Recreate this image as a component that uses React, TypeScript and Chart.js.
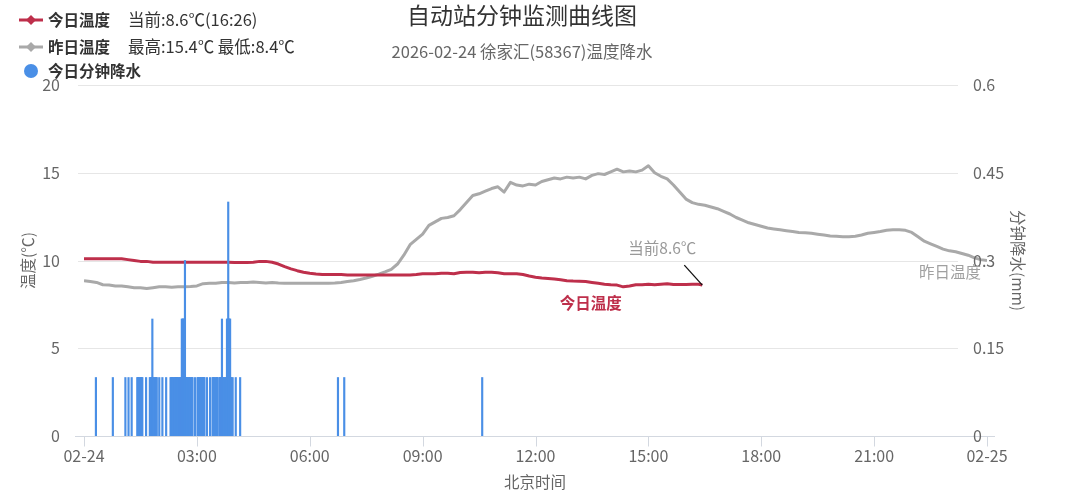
import React, { useEffect, useRef } from "react";
import { Chart, registerables } from "chart.js";

Chart.register(...registerables);

const TITLE = "自动站分钟监测曲线图";
const SUBTITLE = "2026-02-24 徐家汇(58367)温度降水";
const X_TITLE = "北京时间";
const TEMP_TITLE = "温度(℃)";
const RAIN_TITLE = "分钟降水(mm)";

const TODAY_NAME = "今日温度";
const TODAY_NOTE = "当前:8.6℃(16:26)";
const YESTERDAY_NAME = "昨日温度";
const YESTERDAY_NOTE = "最高:15.4℃ 最低:8.4℃";
const RAIN_NAME = "今日分钟降水";
const CURRENT_LABEL = "当前8.6℃";

// x axis: minutes since 00:00
const X_TICK_MINUTES = [0, 180, 360, 540, 720, 900, 1080, 1260, 1440];
const X_TICK_LABELS = ["02-24", "03:00", "06:00", "09:00", "12:00", "15:00", "18:00", "21:00", "02-25"];
const TEMP_TICKS = [0, 5, 10, 15, 20];
const TEMP_TICK_LABELS = ["0", "5", "10", "15", "20"];
const RAIN_TICKS = [0, 0.15, 0.3, 0.45, 0.6];
const RAIN_TICK_LABELS = ["0", "0.15", "0.3", "0.45", "0.6"];

// temperatures are sampled every 10 minutes
const SAMPLE_STEP = 10;

const TODAY_TEMPS = [
  10.1, 10.1, 10.1, 10.1, 10.1, 10.1, 10.1, 10.05, 10.0, 9.95,
  9.95, 9.9, 9.9, 9.9, 9.9, 9.9, 9.9, 9.9, 9.9, 9.9,
  9.9, 9.9, 9.9, 9.9, 9.88, 9.88, 9.88, 9.9, 9.95, 9.95,
  9.9, 9.8, 9.65, 9.52, 9.42, 9.33, 9.27, 9.23, 9.2, 9.2,
  9.2, 9.2, 9.18, 9.18, 9.18, 9.18, 9.18, 9.18, 9.18, 9.18,
  9.18, 9.18, 9.18, 9.2, 9.25, 9.25, 9.25, 9.28, 9.28, 9.25,
  9.32, 9.33, 9.33, 9.3, 9.33, 9.33, 9.3, 9.25, 9.25, 9.25,
  9.2, 9.12, 9.05, 9.0, 8.98, 8.95, 8.9, 8.85, 8.83, 8.82,
  8.8, 8.75, 8.7, 8.65, 8.62, 8.6, 8.5, 8.55, 8.62, 8.62,
  8.65, 8.62, 8.65, 8.68, 8.63, 8.63, 8.63, 8.65, 8.65,
];
const TODAY_LAST_MINUTE = 986; // 16:26
const TODAY_LAST_TEMP = 8.6;

const YESTERDAY_TEMPS = [
  8.85, 8.8, 8.75, 8.62, 8.6, 8.55, 8.55, 8.5, 8.45, 8.45,
  8.4, 8.45, 8.5, 8.5, 8.48, 8.5, 8.5, 8.52, 8.55, 8.68,
  8.7, 8.7, 8.75, 8.75, 8.72, 8.75, 8.75, 8.78, 8.75, 8.72,
  8.75, 8.72, 8.7, 8.7, 8.7, 8.7, 8.7, 8.7, 8.7, 8.7,
  8.72, 8.75, 8.8, 8.85, 8.92, 9.0, 9.1, 9.22, 9.35, 9.5,
  9.8, 10.3, 10.9, 11.2, 11.5, 12.0, 12.2, 12.4, 12.45, 12.55,
  12.9, 13.3, 13.7, 13.8, 13.95, 14.1, 14.2, 13.9, 14.45, 14.3,
  14.25, 14.35, 14.3, 14.5, 14.6, 14.7, 14.65, 14.75, 14.7, 14.75,
  14.65, 14.85, 14.95, 14.9, 15.05, 15.2, 15.05, 15.1, 15.05, 15.15,
  15.4, 15.0, 14.8, 14.65, 14.3, 13.9, 13.5, 13.3, 13.2, 13.15,
  13.05, 12.95, 12.8, 12.65, 12.45, 12.3, 12.15, 12.05, 11.95, 11.85,
  11.8, 11.75, 11.7, 11.65, 11.6, 11.58, 11.55, 11.5, 11.45, 11.4,
  11.38, 11.36, 11.36, 11.38, 11.45, 11.55, 11.6, 11.65, 11.72, 11.75,
  11.75, 11.72, 11.6, 11.35, 11.1, 10.95, 10.8, 10.65, 10.55, 10.5,
  10.4, 10.3, 10.15, 10.05, 10.0,
];

// minute-by-minute precipitation (only minutes with rain)
const RAIN_MINUTES = [
  19, 46, 66, 71, 76, 85, 86, 87, 88, 90, 91, 92, 93, 99,
  105, 106, 107, 108, 109, 110, 111, 113, 114, 115, 116, 120, 125, 131,
  138, 139, 140, 141, 142, 144, 145, 146, 147, 148, 149, 150,
  152, 153, 154, 155, 156, 157, 158, 159, 160, 161, 162, 163, 164, 165,
  167, 168, 169, 171, 172, 173, 177, 181, 182, 183, 185, 186,
  188, 189, 190, 191, 192, 196, 201, 205, 206, 207, 209, 211, 212, 213,
  216, 217, 218, 219, 220, 221, 222, 223, 225, 226, 227,
  228, 229, 230, 231, 232, 233, 234, 235, 237, 242, 249,
  405, 415, 635,
];
const RAIN_MM = [
  0.1, 0.1, 0.1, 0.1, 0.1, 0.1, 0.1, 0.1, 0.1, 0.1, 0.1, 0.1, 0.1, 0.1,
  0.1, 0.1, 0.1, 0.1, 0.2, 0.1, 0.1, 0.1, 0.1, 0.1, 0.1, 0.1, 0.1, 0.1,
  0.1, 0.1, 0.1, 0.1, 0.1, 0.1, 0.1, 0.1, 0.1, 0.1, 0.1, 0.1,
  0.1, 0.1, 0.1, 0.1, 0.2, 0.2, 0.2, 0.2, 0.2, 0.3, 0.1, 0.1, 0.1, 0.1,
  0.1, 0.1, 0.1, 0.1, 0.1, 0.1, 0.1, 0.1, 0.1, 0.1, 0.1, 0.1,
  0.1, 0.1, 0.1, 0.1, 0.1, 0.1, 0.1, 0.1, 0.1, 0.1, 0.1, 0.1, 0.1, 0.1,
  0.1, 0.1, 0.1, 0.1, 0.2, 0.1, 0.1, 0.1, 0.1, 0.1, 0.1,
  0.2, 0.2, 0.4, 0.2, 0.2, 0.2, 0.1, 0.1, 0.1, 0.1, 0.1,
  0.1, 0.1, 0.1,
];

const TODAY_COLOR = "#BE2F4B";
const YESTERDAY_COLOR = "#A9A9A9";
const RAIN_COLOR = "#4A8FE6";
const TEXT_COLOR = "#666666";
const FONT = '"Noto Sans CJK SC", "Noto Sans", sans-serif';

const todayPoints = TODAY_TEMPS.map((t, i) => ({ x: i * SAMPLE_STEP, y: t })).concat([
  { x: TODAY_LAST_MINUTE, y: TODAY_LAST_TEMP },
]);
const yesterdayPoints = YESTERDAY_TEMPS.map((t, i) => ({ x: i * SAMPLE_STEP, y: t }));
const rainPoints = RAIN_MINUTES.map((m, i) => ({ x: m, y: RAIN_MM[i] }));

function legendLine(ctx: CanvasRenderingContext2D, y: number, color: string) {
  ctx.strokeStyle = color;
  ctx.lineWidth = 3;
  ctx.beginPath();
  ctx.moveTo(19, y);
  ctx.lineTo(43, y);
  ctx.stroke();
  ctx.fillStyle = color;
  ctx.beginPath();
  ctx.moveTo(31, y - 5);
  ctx.lineTo(36, y);
  ctx.lineTo(31, y + 5);
  ctx.lineTo(26, y);
  ctx.closePath();
  ctx.fill();
}

const decorations = {
  id: "decorations",
  beforeDatasetsDraw(chart: any) {
    const { ctx, scales, chartArea } = chart;
    const xs = scales.x;
    const ys = scales.y;
    ctx.save();
    // horizontal grid
    ctx.strokeStyle = "#e6e6e6";
    ctx.lineWidth = 1;
    TEMP_TICKS.forEach((v) => {
      if (v === 0) return;
      const py = Math.round(ys.getPixelForValue(v)) + 0.5;
      ctx.beginPath();
      ctx.moveTo(chartArea.left - 6, py);
      ctx.lineTo(chartArea.right - 29, py);
      ctx.stroke();
    });
    // x axis line and tick marks
    const base = Math.round(ys.getPixelForValue(0)) + 0.5;
    ctx.strokeStyle = "#d3d8e0";
    ctx.beginPath();
    ctx.moveTo(chartArea.left - 9, base);
    ctx.lineTo(chartArea.right + 8, base);
    ctx.stroke();
    X_TICK_MINUTES.forEach((m) => {
      const px = Math.round(xs.getPixelForValue(m)) + 0.5;
      ctx.beginPath();
      ctx.moveTo(px, base);
      ctx.lineTo(px, base + 10);
      ctx.stroke();
    });
    ctx.restore();
  },
  afterDatasetsDraw(chart: any) {
    const { ctx, scales, chartArea } = chart;
    const xs = scales.x;
    const ys = scales.y;
    const yr = scales.y1;
    ctx.save();
    ctx.textBaseline = "middle";

    // titles
    ctx.fillStyle = "#333333";
    ctx.font = `23px ${FONT}`;
    ctx.textAlign = "center";
    ctx.fillText(TITLE, 522, 15);
    ctx.fillStyle = TEXT_COLOR;
    ctx.font = `16.5px ${FONT}`;
    ctx.fillText(SUBTITLE, 522, 52);

    // axis tick labels
    ctx.font = `16px ${FONT}`;
    ctx.fillStyle = TEXT_COLOR;
    X_TICK_MINUTES.forEach((m, i) => {
      ctx.textAlign = "center";
      ctx.fillText(X_TICK_LABELS[i], xs.getPixelForValue(m), chartArea.bottom + 20);
    });
    TEMP_TICKS.forEach((v, i) => {
      ctx.textAlign = "right";
      ctx.fillText(TEMP_TICK_LABELS[i], chartArea.left - 24, ys.getPixelForValue(v));
    });
    RAIN_TICKS.forEach((v, i) => {
      ctx.textAlign = "left";
      ctx.fillText(RAIN_TICK_LABELS[i], chartArea.right - 14, yr.getPixelForValue(v));
    });

    // axis titles
    ctx.font = `15.5px ${FONT}`;
    ctx.textAlign = "center";
    ctx.fillText(X_TITLE, 535, chartArea.bottom + 46);
    ctx.save();
    ctx.translate(28, (chartArea.top + chartArea.bottom) / 2);
    ctx.rotate(-Math.PI / 2);
    ctx.fillText(TEMP_TITLE, 0, 0);
    ctx.restore();
    ctx.save();
    ctx.translate(1018, (chartArea.top + chartArea.bottom) / 2);
    ctx.rotate(Math.PI / 2);
    ctx.fillText(RAIN_TITLE, 0, 0);
    ctx.restore();

    // current value marker
    const endX = xs.getPixelForValue(TODAY_LAST_MINUTE);
    const endY = ys.getPixelForValue(TODAY_LAST_TEMP);
    ctx.strokeStyle = "#111111";
    ctx.lineWidth = 1.3;
    ctx.beginPath();
    ctx.moveTo(endX, endY);
    ctx.lineTo(endX - 18, endY - 20);
    ctx.stroke();
    ctx.fillStyle = "#999999";
    ctx.textAlign = "center";
    ctx.fillText(CURRENT_LABEL, endX - 40, endY - 37);

    // series labels on the plot
    ctx.font = `bold 15.5px ${FONT}`;
    ctx.fillStyle = TODAY_COLOR;
    ctx.fillText(TODAY_NAME, xs.getPixelForValue(808), ys.getPixelForValue(8.75) + 21);
    ctx.font = `15.5px ${FONT}`;
    ctx.fillStyle = "#a0a0a0";
    const yEnd = YESTERDAY_TEMPS[YESTERDAY_TEMPS.length - 1];
    ctx.fillText(YESTERDAY_NAME, xs.getPixelForValue(1440) - 37, ys.getPixelForValue(yEnd) + 12);

    // legend
    ctx.textAlign = "left";
    legendLine(ctx, 20, TODAY_COLOR);
    legendLine(ctx, 47, YESTERDAY_COLOR);
    ctx.fillStyle = RAIN_COLOR;
    ctx.beginPath();
    ctx.arc(31, 71, 7, 0, Math.PI * 2);
    ctx.fill();
    ctx.fillStyle = "#333333";
    ctx.font = `bold 15.5px ${FONT}`;
    ctx.fillText(TODAY_NAME, 48, 20);
    ctx.fillText(YESTERDAY_NAME, 48, 47);
    ctx.fillText(RAIN_NAME, 48, 71);
    ctx.font = `16.5px ${FONT}`;
    ctx.fillText(TODAY_NOTE, 128, 20);
    ctx.fillText(YESTERDAY_NOTE, 128, 47);

    ctx.restore();
  },
};

export default function App() {
  const canvasRef = useRef<HTMLCanvasElement | null>(null);

  useEffect(() => {
    document.body.style.margin = "0";
    const canvas = canvasRef.current;
    if (!canvas) return;
    const chart = new Chart(canvas, {
      type: "bar",
      data: {
        datasets: [
          {
            type: "bar",
            label: RAIN_NAME,
            data: rainPoints,
            yAxisID: "y1",
            backgroundColor: RAIN_COLOR,
            borderWidth: 0,
            barThickness: 1.5,
            order: 0,
          } as any,
          {
            type: "line",
            label: TODAY_NAME,
            data: todayPoints,
            yAxisID: "y",
            borderColor: TODAY_COLOR,
            borderWidth: 3,
            pointRadius: 0,
            tension: 0,
            borderJoinStyle: "round",
            order: 1,
          } as any,
          {
            type: "line",
            label: YESTERDAY_NAME,
            data: yesterdayPoints,
            yAxisID: "y",
            borderColor: YESTERDAY_COLOR,
            borderWidth: 3,
            pointRadius: 0,
            tension: 0,
            borderJoinStyle: "round",
            order: 2,
          } as any,
        ],
      },
      options: {
        responsive: false,
        animation: false,
        devicePixelRatio: 1,
        layout: { padding: { left: 84, right: 93, top: 85, bottom: 54 } },
        plugins: {
          legend: { display: false },
          title: { display: false },
          tooltip: { enabled: false },
        },
        scales: {
          x: { type: "linear", min: 0, max: 1440, offset: false, display: false },
          y: { type: "linear", min: 0, max: 20, display: false },
          y1: { type: "linear", min: 0, max: 0.6, display: false, position: "right" },
        },
      },
      plugins: [decorations],
    });
    return () => chart.destroy();
  }, []);

  return (
    <div style={{ width: 1080, height: 490, background: "#ffffff" }}>
      <canvas ref={canvasRef} width={1080} height={490} />
    </div>
  );
}
